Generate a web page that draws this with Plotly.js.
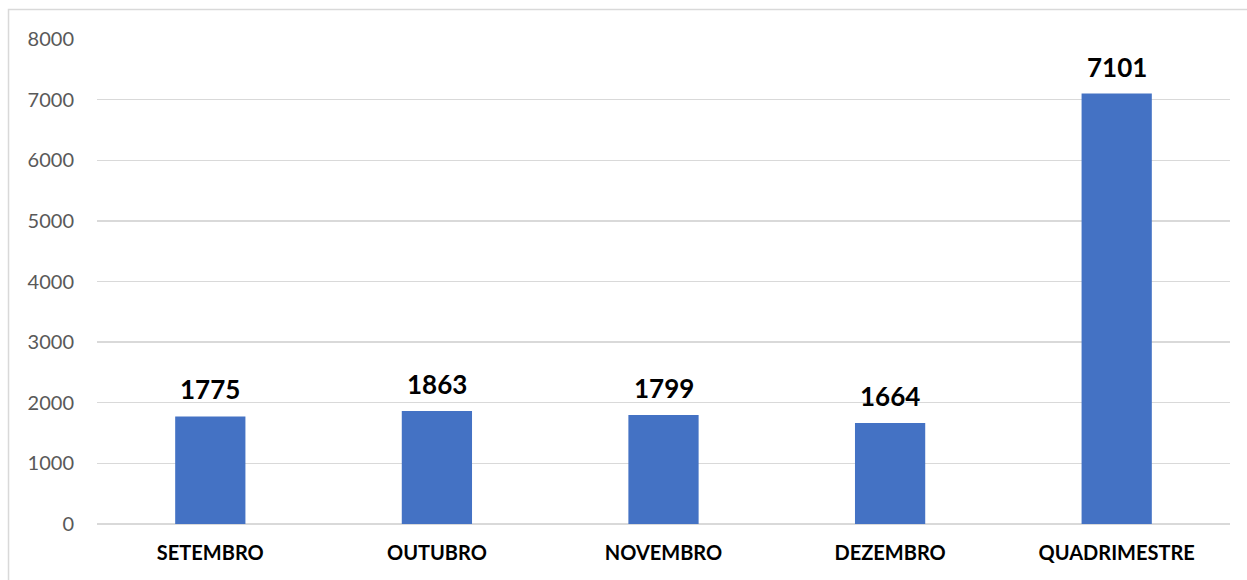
<!DOCTYPE html>
<html>
<head>
<meta charset="utf-8">
<script src="https://cdn.plot.ly/plotly-3.0.1.min.js"></script>
<style>html,body{margin:0;padding:0;background:#fff;}#chart{width:1247px;height:580px;}</style>
</head>
<body>
<div id="chart"></div>
<script>
const categories = ["SETEMBRO", "OUTUBRO", "NOVEMBRO", "DEZEMBRO", "QUADRIMESTRE"];
const values = [1775, 1863, 1799, 1664, 7101];
const yTicks = [0, 1000, 2000, 3000, 4000, 5000, 6000, 7000, 8000];

const trace = {
  type: "bar",
  x: categories,
  y: values,
  marker: {color: "#4472C4"},
  hoverinfo: "x+y"
};

const annotations = categories.map((c, i) => ({
  x: c, y: values[i], xref: "x", yref: "y",
  text: "<b>" + values[i] + "</b>",
  showarrow: false, yanchor: "bottom", yshift: 9,
  font: {family: "Lato, 'Open Sans', sans-serif", size: 26, color: "#000"}
}));

const layout = {
  width: 1247, height: 580,
  margin: {l: 97, r: 17, t: 39, b: 56},
  paper_bgcolor: "#fff", plot_bgcolor: "#fff",
  bargap: 0.69,
  showlegend: false,
  xaxis: {
    showgrid: false, zeroline: false, showline: false,
    ticks: "", ticklabelstandoff: 15,
    tickfont: {family: "Lato, 'Open Sans', sans-serif", size: 20, color: "#000", weight: "bold"}
  },
  yaxis: {
    range: [0, 8000], tickvals: yTicks, ticktext: yTicks.map(String),
    showgrid: true, gridcolor: "#D9D9D9", gridwidth: 1.3,
    zeroline: true, zerolinecolor: "#D9D9D9", zerolinewidth: 1.3,
    showline: false, ticks: "", ticklabelstandoff: 22,
    tickfont: {family: "Lato, 'Open Sans', sans-serif", size: 20, color: "#595959"}
  },
  annotations: annotations,
  shapes: [{
    type: "rect", xref: "paper", yref: "paper",
    x0: -0.0781, x1: 1.05, y0: -0.3, y1: 1.0608,
    line: {color: "#D9D9D9", width: 1.5}, fillcolor: "rgba(0,0,0,0)", layer: "below"
  }]
};

Plotly.newPlot("chart", [trace], layout, {displayModeBar: false, staticPlot: true});
</script>
</body>
</html>
